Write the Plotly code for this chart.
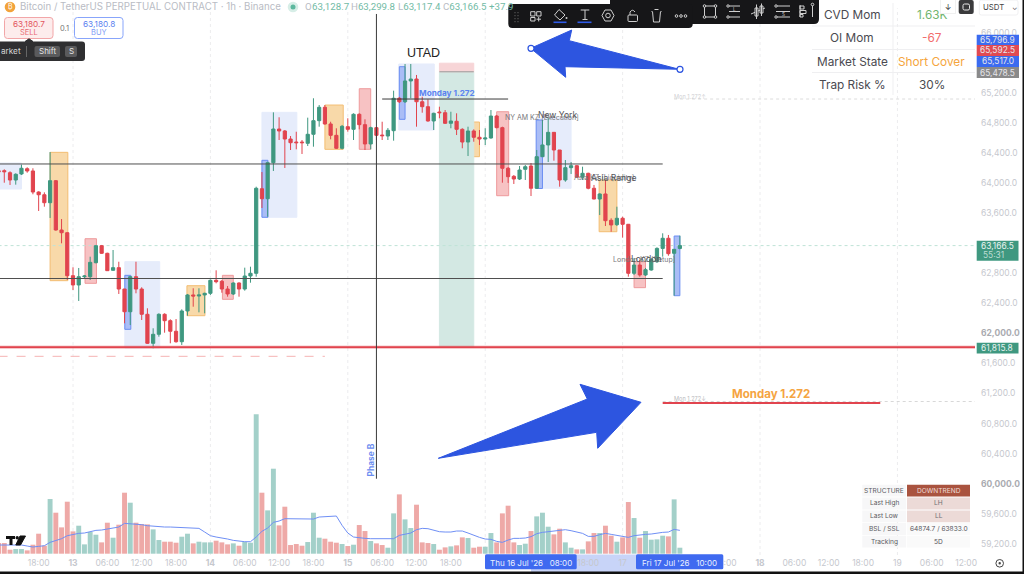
import plotly.graph_objects as go

# ---------- data ----------
bar_index = list(range(-13, 107))
open_ = [64163,64163,64136,64039,64119,64189,64159,63879,63843,63737,64030,63374,63338,
 62766,62643,62753,62753,62939,63165,63064,62838,62873,62589,
 62287,62753,62589,62253,61867,61987,62253,62168,62027,61888,
 62297,62510,62496,62510,62532,62705,62692,62589,62523,62669,
 62589,62762,62798,63923,63790,64269,64717,64691,64584,64544,
 64544,64527,64647,64828,65006,64784,64633,64461,64748,64713,
 64913,64775,64518,64735,64637,64624,64695,65126,65080,65356,
 65382,65080,65014,64824,64943,64934,64793,64820,64713,64544,
 64691,64607,64584,64598,64890,64735,64195,64088,64052,64181,
 64225,63929,64349,64505,64673,64438,64039,64203,64229,64075,
 64128,63929,63786,63853,63503,63445,63530,63450,62798,62908,
 62776,62842,62952,63129,63264,63064,63128.7]
high = [64172,64181,64155,64128,64243,64208,64195,63889,63875,64411,64039,63520,63343,
 62878,62869,62775,63019,63175,63175,63072,63108,62952,62589,
 62762,62952,62612,62333,62067,62266,62266,62186,62190,62319,
 62523,62599,62599,62540,62718,62838,62709,62629,62678,62678,
 62873,62886,63950,64145,64282,64939,64873,64704,64624,64681,
 64571,64868,65126,65036,65036,64814,64727,64771,64860,64926,
 64926,64846,64748,64744,64814,64730,65227,65143,65582,65582,
 65436,65147,65112,64934,65014,64970,64947,64926,64727,64748,
 64713,64704,64727,64970,64904,64748,64212,64105,64225,64238,
 64265,64438,64837,64864,64677,64438,64305,64278,64238,64216,
 64136,63973,63862,64039,63530,63684,63551,63454,63002,62975,
 62869,62998,63144,63330,63308,63121,63299.8]
low = [64132,64003,63973,63977,64106,64136,63849,63627,63684,63534,63365,63197,62709,
 62576,62430,62731,62709,62931,63055,62829,62833,62523,62133,
 62110,62532,62177,61858,61801,61955,62008,61867,61875,61845,
 62234,62354,62279,62266,62510,62665,62540,62487,62510,62487,
 62567,62673,62753,63667,63551,64159,64571,64199,64438,64447,
 64385,64491,64482,64748,64775,64580,64451,64447,64681,64571,
 64713,64438,64447,64571,64571,64571,64562,65063,65063,65126,
 64748,64934,64814,64704,64860,64784,64727,64637,64461,64358,
 64548,64504,64504,64588,64727,64003,64000,63986,64039,64039,
 63826,63923,64345,64278,64296,63950,64016,64119,64072,64039,
 63915,63782,63573,63427,63351,63427,63272,62753,62776,62753,
 62762,62833,62935,63019,63032,62500,63117.4]
close = [64146,64149,64039,64115,64195,64159,63879,63843,63737,64030,63374,63338,62766,
 62643,62753,62762,62944,63165,63064,62833,62873,62589,62287,
 62753,62589,62253,61867,61987,62253,62168,62027,61888,62297,
 62510,62496,62510,62532,62705,62686,62589,62523,62669,62589,
 62762,62798,63929,63790,64269,64717,64691,64584,64535,64535,
 64535,64647,64828,65006,64784,64633,64461,64753,64713,64913,
 64775,64518,64735,64633,64628,64700,65126,65080,65356,65382,
 65080,65014,64824,64926,64934,64793,64824,64713,64544,64691,
 64607,64584,64598,64890,64735,64195,64083,64052,64172,64216,
 63929,64349,64505,64673,64438,64039,64203,64229,64075,64128,
 63929,63786,63853,63498,63441,63530,63450,62798,62908,62776,
 62846,62984,63129,63264,63059,63117,63166.5]
volume = [32,32,12,14,14,10,27,60,24,164,123,79,156,
 67,84,28,65,57,34,93,48,87,183,
 153,93,89,88,73,41,36,36,33,51,
 60,31,36,34,34,39,34,28,31,24,
 35,33,418,183,130,255,85,141,26,29,
 24,35,123,48,45,36,33,29,23,27,
 86,68,38,31,26,18,121,178,103,77,
 147,34,32,29,12,19,22,25,49,47,
 18,21,21,62,34,121,144,34,26,30,
 68,112,123,81,58,75,34,18,13,13,
 37,62,62,84,54,36,49,155,107,48,
 68,42,43,54,52,163,18]
volume_ma = [26,26,26,26,26,23,20,22,24,34,40,45,54,
 58,61,62,66,70,71,74,77,80,91,
 90,89,87,84,82,81,80,80,79,79,
 79,78,76,65,54,50,48,44,40,37,
 36,36,50,67,77,94,98,105,105,105,
 105,104,104,110,111,112,113,85,62,50,
 47,46,45,45,44,44,45,55,59,62,
 72,76,75,71,66,65,65,68,68,62,
 55,49,44,43,37,34,41,46,46,47,
 51,60,64,66,70,72,72,69,65,61,
 52,52,57,61,58,55,51,49,54,57,
 58,59,62,64,65,73,70]

price_ticks = [59200,59600,60000,60400,60800,61200,61600,62000,62400,62800,63600,64000,64400,64800,65200,66000]
time_tick_index = list(range(-12, 157, 6))
# labels hidden behind the crosshair date tags in the picture stay empty
time_tick_text = ["12:00","18:00","<b>13</b>","06:00","12:00","18:00","<b>14</b>","06:00","12:00","18:00",
                  "<b>15</b>","06:00","12:00","18:00","","","","18:00","17","",
                  "","18:00","<b>18</b>","06:00","12:00","18:00","19","06:00","12:00"]

# session rectangles: first bar, last bar, top price, bottom price
session_blue = [(-13.5,-9,64265,63919),(9.05,15.15,62953,61805),(33,39.1,64939,63543),(56.9,63.1,65582,64704),(81,87,64864,63929)]
killzone_blue = [(9.05,10.1,62771,62053),(33,34.05,64301,63543),(57,58,65546,64846),(80.9,82,64837,63926),(105,106,63294,62500)]
killzone_orange = [(-4,-0.9,64407,62700),(19.9,23.05,62633,62234),(44,47.2,65036,64447),(67.95,71,64810,64349),(91.9,95,64039,63351)]
killzone_pink = [(2.1,4.1,63258,62665),(26.1,28,62771,62452),(50,52,65253,64447),(74,76.1,64947,63830),(98,100,62952,62607)]
position_stop, position_entry, position_target = 65592.5, 65478.5, 61815.8
level_upper, level_lower, level_monday_box = 64252, 62729, 65116
level_monday_ext, level_dashed = 61073, 61694
last_price, level_target = 63166.5, 61815.8

GREEN, RED = "#3f9880", "#e1444e"
VOL_G, VOL_R = "#a3d0c9", "#eea9a7"
ICON = "#cfcfcf"
FONT = "Inter"

# page-pixel helpers for the interface overlay (plot area is 975 x 555 px)
X = lambda px: px / 975
Y = lambda py: 1 - py / 555
shapes, notes = [], []

def rect(x0, y0, x1, y1, fill=None, line=None, w=1, layer="above", radius=None):
    if radius:
        r = radius
        p = (f"M{X(x0+r)},{Y(y0)} L{X(x1-r)},{Y(y0)} Q{X(x1)},{Y(y0)} {X(x1)},{Y(y0+r)} L{X(x1)},{Y(y1-r)} "
             f"Q{X(x1)},{Y(y1)} {X(x1-r)},{Y(y1)} L{X(x0+r)},{Y(y1)} Q{X(x0)},{Y(y1)} {X(x0)},{Y(y1-r)} "
             f"L{X(x0)},{Y(y0+r)} Q{X(x0)},{Y(y0)} {X(x0+r)},{Y(y0)} Z")
        shapes.append(dict(type="path", xref="paper", yref="paper", path=p, fillcolor=fill or "rgba(0,0,0,0)",
                           line=dict(color=line or "rgba(0,0,0,0)", width=w), layer=layer))
    else:
        shapes.append(dict(type="rect", xref="paper", yref="paper", x0=X(x0), x1=X(x1), y0=Y(y0), y1=Y(y1),
                           fillcolor=fill or "rgba(0,0,0,0)", line=dict(color=line or "rgba(0,0,0,0)", width=w), layer=layer))

def seg(x0, y0, x1, y1, color=ICON, w=1, dash="solid", layer="above"):
    shapes.append(dict(type="line", xref="paper", yref="paper", x0=X(x0), x1=X(x1), y0=Y(y0), y1=Y(y1),
                       line=dict(color=color, width=w, dash=dash), layer=layer))

def circ(cx, cy, r, fill=None, line=None, w=1):
    shapes.append(dict(type="circle", xref="paper", yref="paper", x0=X(cx-r), x1=X(cx+r), y0=Y(cy-r), y1=Y(cy+r),
                       fillcolor=fill or "rgba(0,0,0,0)", line=dict(color=line or "rgba(0,0,0,0)", width=w), layer="above"))

def poly(pts, fill):
    p = "M" + " L".join(f"{X(a)},{Y(b)}" for a, b in pts) + " Z"
    shapes.append(dict(type="path", xref="paper", yref="paper", path=p, fillcolor=fill, line=dict(color=fill, width=1), layer="above"))

def text(x, y, s, size=9, color="#555", anchor="center", **kw):
    notes.append(dict(xref="paper", yref="paper", x=X(x), y=Y(y), text=s, showarrow=False, xanchor=anchor, yanchor="middle",
                      font=dict(size=size, color=color, family=kw.pop("family", FONT)), borderpad=0, **kw))

def data_box(b, fill, line, w=1):
    shapes.append(dict(type="rect", xref="x", yref="y", x0=b[0], x1=b[1], y0=b[3], y1=b[2], fillcolor=fill,
                       line=dict(color=line, width=w), layer="below"))

def level(price, i0, i1, color, w=1, dash="solid", layer="below"):
    shapes.append(dict(type="line", xref="x", yref="y", x0=i0, x1=i1, y0=price, y1=price,
                       line=dict(color=color, width=w, dash=dash), layer=layer))

# day separators
for d in (0, 24, 48, 72, 96, 120, 144):
    shapes.append(dict(type="line", xref="x", yref="paper", x0=d, x1=d, y0=0, y1=0.985,
                       line=dict(color="#ececee", width=1, dash="dot"), layer="below"))

# session boxes
for b in session_blue:     data_box(b, "#e6ecfb", "#e6ecfb")
for b in killzone_blue:    data_box(b, "#aabdf6", "#6b8ef2")
for b in killzone_orange:  data_box(b, "#f8d9a9", "#f3bd72")
for b in killzone_pink:    data_box(b, "#f7c2c3", "#ee9a9c")
# position tool
data_box((64, 70, position_entry, position_target), "#d3e8e3", "#d3e8e3")
data_box((64, 70, position_stop, position_entry), "#f7d5d7", "#f7d5d7")
level(position_entry, 64, 70, "#9a9a9a", 1)
# levels
level(last_price, -13, 157.6, "#bfe3d7", 1, "dot")
level(61093, 103, 157.6, "#d8d8d8", 1, "dot")
level(level_monday_box, 105, 157.6, "#dcdcdc", 1, "dot")
level(level_dashed, -13, 44, "#f5b3b3", 1, "dash")
level(level_target, -13, 157.6, "rgba(228,66,77,.3)", 3.5)
level(level_target, -13, 157.6, RED, 1.6, layer="above")
level(level_monday_ext, 103, 141, RED, 2, layer="above")
level(level_upper, -13, 103, "#4f4f4f", 1, layer="above")
level(level_lower, -13, 103, "#4f4f4f", 1, layer="above")
level(level_monday_box, 54, 76, "#3a3a3a", 1, layer="above")
shapes.append(dict(type="line", xref="x", yref="y", x0=53, x1=53, y0=60066, y1=66247,
                   line=dict(color="#3a3a3a", width=1), layer="above"))

# arrows
BLUE = "#2d55e0"
poly([(530.7,48.3),(571.7,30),(569.3,40.7),(679.3,69.3),(565,66.7),(565.7,77.3)], BLUE)
poly([(438.3,458.3),(587.3,399),(580,384.3),(641,402.3),(597.7,448.3),(596.7,432.3)], BLUE)
circ(531, 48.3, 3, "#fff", BLUE, 1.2)
circ(680, 69.3, 3, "#fff", BLUE, 1.2)

# top-left order widgets
circ(10, 7, 5.3, "#f2a33b")
text(10, 7, "₿", 7, "#fff")
text(19, 7, "Bitcoin / TetherUS PERPETUAL CONTRACT · 1h · Binance", 9.7, "#b9bcc4", "left")
circ(293, 7, 5.3, "#d7eee7")
circ(293, 7, 2.5, "#5cb89e")
text(304, 7, "O", 9.7, "#b9bcc4", "left", family="Roboto")
for x, lab, val in [(311,"","63,128.7"),(350,"H","63,299.8"),(397,"L","63,117.4"),(441.5,"C","63,166.5")]:
    s = (f"<span style='color:#b9bcc4'>{lab}</span>" if lab else "") + val
    text(x, 7, s, 9.7, "#72bba5", "left", family="Roboto")
text(488, 7, "+37.9", 9.7, "#72bba5", "left", family="Roboto")
rect(4.5, 17.5, 53, 38.5, "#fdecec", "#f2a6a8", 1, radius=3)
text(29, 23.5, "63,180.7", 8.2, "#e2555e")
text(29, 32.5, "SELL", 7.5, "#e96a72")
text(64, 28.5, "0.1", 7.5, "#777")
rect(74.5, 17.5, 123, 38.5, "#fff", "#88a5fb", 1, radius=3)
text(99, 23.5, "63,180.8", 8.2, "#5b7ff0")
text(99, 32.5, "BUY", 7.5, "#7e9bf5")
rect(-6, 41.5, 85, 61, "#2f2f31", None, radius=3)
poly([(25,41.5),(29,38.8),(33,41.5)], "#2f2f31")
text(0, 51.5, "arket", 8.2, "#d5d5d5", "left")
seg(26.5, 46, 26.5, 57, "#666")
rect(34.5, 46, 60, 57, "#5a5a5c", None, radius=2)
text(47, 51.5, "Shift", 8, "#e6e6e6")
rect(65, 46, 77, 57, "#5a5a5c", None, radius=2)
text(71, 51.5, "S", 8, "#e6e6e6")

# drawing toolbar
rect(610, -6, 819, 24, "#161618", None, radius=5)
rect(508.3, 4, 692.7, 28, "#161618", None, radius=4)
for px in (515, 518):
    for py in (12, 15, 18, 21):
        seg(px, py, px, py+1.2, "#555", 1.2)
rect(530.7, 11.7, 535, 16, None, ICON); rect(536.7, 11.7, 541, 16, None, ICON); rect(530.7, 17.5, 535, 21, None, ICON)
seg(536.5, 19.2, 541, 19.2); seg(538.7, 17, 538.7, 21.4)
poly([(559,9.5),(565,15),(560,20),(554.5,15)], "#161618")
seg(559,9.5,565,15); seg(565,15,560,20); seg(560,20,554.5,15); seg(554.5,15,559,9.5); circ(566.5,18,1,ICON)
seg(553.5, 22.3, 566.5, 22.3, "#2f5be8", 1.6)
seg(580.7, 10, 589.3, 10); seg(585, 10, 585, 19.5); seg(582.5, 19.5, 587.5, 19.5)
seg(577.5, 22.3, 591.5, 22.3, "#2f5be8", 1.6)
poly([(602,15.5),(605,10),(611,10),(614,15.5),(611,21),(605,21)], "#161618")
seg(602,15.5,605,10); seg(605,10,611,10); seg(611,10,614,15.5); seg(614,15.5,611,21); seg(611,21,605,21); seg(605,21,602,15.5)
circ(608, 15.5, 2.3, None, ICON)
rect(628, 15, 637.5, 21.5, None, ICON, radius=1)
shapes.append(dict(type="path", xref="paper", yref="paper", path=f"M{X(630)},{Y(15)} L{X(630)},{Y(12)} Q{X(632.5)},{Y(8.5)} {X(635)},{Y(12)}", line=dict(color=ICON, width=1), layer="above"))
seg(651.5, 11.5, 661.5, 11.5); seg(654.5, 9.5, 658.5, 9.5)
poly([(652.5,11.5),(660.5,11.5),(659.5,22),(653.5,22)], "#161618")
seg(652.5,11.5,653.5,22); seg(653.5,22,659.5,22); seg(659.5,22,660.5,11.5)
for cx in (676.5, 681, 685.5):
    circ(cx, 16, 1.3, None, ICON)
# second toolbar icons
rect(704.5, 6, 715.5, 17, None, ICON)
for a, b in [(704.5,6),(715.5,6),(704.5,17),(715.5,17)]:
    circ(a, b, 1.3, "#161618", ICON)
seg(729, 6, 740, 6); seg(729, 11.5, 740, 11.5); seg(729, 17, 740, 17)
circ(728, 6, 1.2, "#161618", ICON); circ(728, 17, 1.2, "#161618", ICON)
text(734, 9.3, "L", 4.5, ICON)
seg(751, 14, 765, 8, ICON)
rect(755, 8, 758, 16, "#161618", ICON); rect(760, 6, 763, 13, "#161618", ICON)
seg(756.5, 4.5, 756.5, 19); seg(761.5, 3.5, 761.5, 16)
seg(776, 6, 790, 6); seg(776, 11.5, 790, 11.5); seg(776, 17, 790, 17)
circ(776, 6, 1.2, "#161618", ICON); circ(776, 17, 1.2, "#161618", ICON)
text(783, 14.3, "S", 4.5, ICON)
seg(800, 5, 800, 17); rect(800, 6, 804, 9, None, ICON); rect(800, 10.5, 806, 13.5, None, ICON); rect(800, 14.5, 803, 17, None, ICON)
seg(812.5, 5, 812.5, 17); circ(812.5, 4.5, 1.3, "#161618", ICON)

# top-right stats table
for ypx in (26, 49.5, 72.5):
    seg(812, ypx, 975, ypx, "#efeff1")
seg(893, 3, 893, 95, "#efeff1")
for yp, a, b, c in [(15,"CVD Mom","1.63K","#71b56e"),(38.5,"OI Mom","-67","#f26d6d"),(62,"Market State","Short Cover","#f5a53c"),(85,"Trap Risk %","30%","#4a4a50")]:
    text(852, yp, a, 11.8, "#4a4a50")
    text(931.5, yp, b, 11.8, c)
notes.append(dict(xref="paper", yref="paper", x=X(948.2), y=Y(7), text="↓", showarrow=False, width=14, height=13, bgcolor="#fff",
                  xanchor="center", yanchor="middle", bordercolor="#f0f0f0", borderwidth=1,
                  font=dict(size=8, color="#333", family=FONT), borderpad=0))
rect(958.7, 0, 973.7, 14, "#3a3a3c", None, radius=2)
rect(963, 4, 969.5, 10, None, "#e8e8e8", radius=1.5)
rect(979.3, 0, 1018, 15, "#fff", "#f0f0f2", radius=2)
text(982, 7, "USDT", 7.8, "#444", "left")
text(1014.5, 7.5, "⌄", 7, "#555")

# price tags
for y0, y1, c, s in [(34.7,45,"#3b6bf0","65,796.9"),(45,56,"#e14a52","65,592.5"),(56,67,"#3b6bf0","65,517.0"),(67,78,"#8a8a8a","65,478.5")]:
    rect(976.7, y0, 1019, y1, c)
    text(997.8, (y0+y1)/2, s, 8.4, "#e6e6ea")
rect(976.7, 240.7, 1018.5, 260.7, GREEN)
text(997.5, 246, "63,166.5", 8.4, "#e8f3f0")
text(993, 255, "55:31", 8.4, "#bcdcd3")
rect(976.7, 342.7, 1018.5, 353.5, GREEN)
text(997.5, 348, "61,815.8", 8.4, "#e8f3f0")

# chart texts
text(423.5, 53, "UTAD", 12.5, "#222", family="Liberation Sans")
text(418, 93, "<b>Monday 1.272</b>", 8.2, "#5b83f0", "left")
text(504, 117.5, "NY AM KZ [Execution]", 7, "#77777c", "left")
text(537, 115.5, "New York", 8.6, "#55555a", "left")
text(573, 177.7, "Asia KZ [Liquidity]", 7, "#77777c", "left")
text(590, 177.7, "Asia Range", 8.6, "#55555a", "left")
text(612, 259.3, "London KZ [Setup]", 7, "#77777c", "left")
text(630, 259.3, "London", 8.6, "#55555a", "left")
text(771, 394, "<b>Monday 1.272</b>", 11.5, "#f5a442")
text(673, 96.5, "Mon 1.272↑", 5.6, "#cfcfd3", "left")
text(673, 399, "Mon 1.272↓", 5.6, "#b9b9bd", "left")
text(370.5, 460, "<b>Phase B</b>", 8.4, "#6a8cf0", textangle=-90)
# TV logo
rect(6, 536, 15, 539, "#111")
rect(9.5, 536, 12.5, 545, "#111")
circ(17.2, 537.7, 1.7, "#111")
poly([(20,536),(25.5,536),(20.5,545),(15.8,545)], "#111")

# bottom-right structure table
rows = [(484.3,497,"STRUCTURE","DOWNTREND","#a9533f","#f0dcd6"),(497,510,"Last High","LH","#ecdad7","#6f6f74"),
        (510,522.7,"Last Low","LL","#ecdad7","#6f6f74"),(522.7,535.7,"BSL / SSL","64874.7 / 63833.0","#fafafa","#55555a"),
        (535.7,548,"Tracking","5D","#fafafa","#55555a")]
for y0, y1, a, b, bg, fg in rows:
    rect(862.3, y0+0.4, 906.2, y1-0.4, "#f7f7f8")
    rect(907, y0+0.4, 970, y1-0.4, bg)
    text(884.3, (y0+y1)/2, a, 6.6, "#5c5c62")
    text(938.5, (y0+y1)/2, b, 6.6, fg)

# time-axis crosshair tags
rect(531, 554.5, 680, 572, "#c8d4f8", layer="below")
for x0, x1, s in [(485,576.7,"Thu 16 Jul '26\u00a0\u00a0\u00a008:00"),(636,723.3,"Fri 17 Jul '26\u00a0\u00a0\u00a010:00")]:
    rect(x0, 554.3, x1, 569.3, "#3f6af0", radius=1.5)
    text((x0+x1)/2, 563, s, 8, "#eaf0ff")
circ(999.7, 563.3, 3.8, None, "#444", 1)
circ(999.7, 563.3, 1.2, "#444")
# window frame
rect(0, 571.5, 1024, 580, "#111")
rect(1022.5, 0, 1030, 574, "#111")

# ---------- figure ----------
vol_colors = [VOL_G if c >= o else VOL_R for o, c in zip(open_, close)]
price_text = [(f"<span style='color:#a9abb0'><b>{p:,.1f}</b></span>" if p in (60000, 62000) else f"{p:,.1f}") for p in price_ticks]

fig = go.Figure()
fig.add_trace(go.Bar(x=bar_index, y=volume, yaxis="y2", width=0.86, marker=dict(color=vol_colors, line_width=0), name="Volume"))
fig.add_trace(go.Scatter(x=bar_index, y=volume_ma, yaxis="y2", mode="lines", line=dict(color="#6f8ff5", width=1), name="Volume MA"))
fig.add_trace(go.Candlestick(x=bar_index, open=open_, high=high, low=low, close=close, whiskerwidth=0, name="BTCUSDT.P",
    increasing=dict(line=dict(color=GREEN, width=1), fillcolor=GREEN),
    decreasing=dict(line=dict(color=RED, width=1), fillcolor=RED)))

fig.update_layout(
    width=1024, height=574, margin=dict(l=0, r=49, t=0, b=19), autosize=False,
    paper_bgcolor="#fff", plot_bgcolor="#fff", showlegend=False, hovermode=False, boxgap=0.2,
    font=dict(family=FONT, size=8.5, color="#c6c8ce"),
    xaxis=dict(range=[-12.75, 157.55], showgrid=False, zeroline=False, showline=False, rangeslider=dict(visible=False),
               tickmode="array", tickvals=time_tick_index, ticktext=time_tick_text, ticks="", tickangle=0,
               tickfont=dict(size=8.5, color="#c6c8ce"), ticklabelstandoff=1),
    yaxis=dict(range=[59051.5, 66433], side="right", showgrid=False, zeroline=False, showline=False,
               tickmode="array", tickvals=price_ticks, ticktext=price_text, ticks="",
               tickfont=dict(size=8.5, color="#c6c8ce"), ticklabelstandoff=5),
    yaxis2=dict(range=[-3.9, 1661.1], overlaying="y", visible=False, fixedrange=True),
    shapes=shapes, annotations=notes,
)
fig.write_html("out.html", config={"displayModeBar": False},
               post_script="document.body.style.margin='0';document.body.style.overflow='hidden';")
